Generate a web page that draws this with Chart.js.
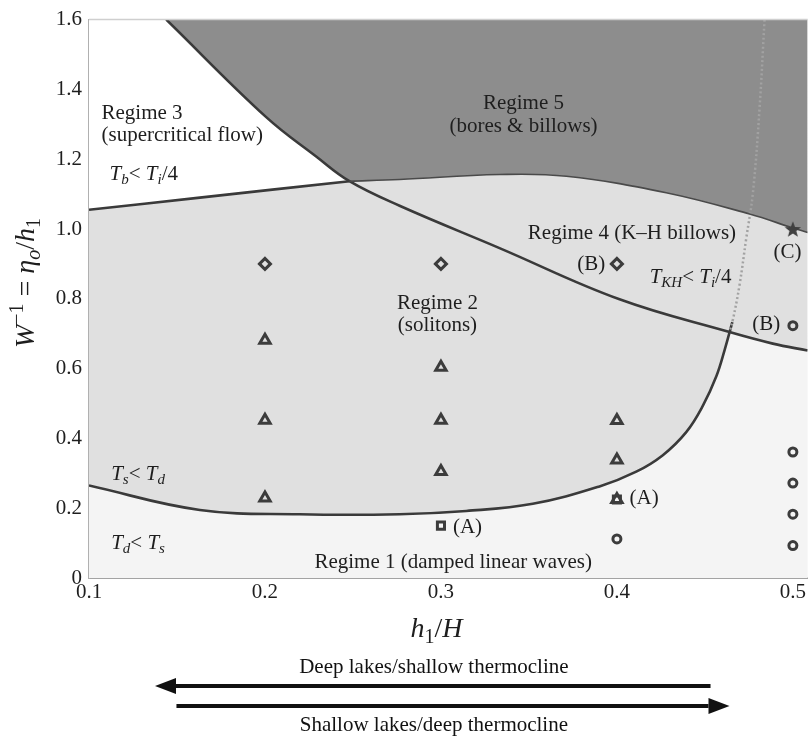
<!DOCTYPE html>
<html>
<head>
<meta charset="utf-8">
<title>Lake wave regimes</title>
<script src="https://cdn.jsdelivr.net/npm/chart.js@4.4.1/dist/chart.umd.min.js"></script>
<style>
  html, body { margin: 0; padding: 0; background: #fff; }
</style>
</head>
<body>
<canvas id="regimeChart" width="808" height="741"></canvas>
<script>
// tick labels
var xTicks = [0.1, 0.2, 0.3, 0.4, 0.5];
var yTicks = [0, 0.2, 0.4, 0.6, 0.8, 1.0, 1.2, 1.4, 1.6];

// regime boundaries as [h1/H, W^-1]
var supercriticalLine = [[0.1, 1.055], [0.163, 1.09], [0.248, 1.137]];
var billowTop = [[0.1439, 1.6], [0.2007, 1.3205], [0.2291, 1.2077], [0.248, 1.137]];
var billowMid = [[0.248, 1.137], [0.2765, 1.0666], [0.3333, 0.9453], [0.4015, 0.7985], [0.464, 0.7046]];
var billowRight = [[0.464, 0.7046], [0.4886, 0.6716], [0.5084, 0.6518]];
var boreCurve = [[0.248, 1.137], [0.2765, 1.142], [0.3333, 1.156], [0.3713, 1.151], [0.428, 1.104],
                 [0.4754, 1.043], [0.5, 1.003], [0.5084, 0.99]];
var solitonCurve = [[0.1, 0.265], [0.163, 0.195], [0.2196, 0.1826], [0.2765, 0.1826], [0.3144, 0.192],
                    [0.3522, 0.2125], [0.3901, 0.2624], [0.411, 0.3047], [0.4261, 0.352], [0.4394, 0.418],
                    [0.4488, 0.493], [0.4565, 0.578], [0.4612, 0.653], [0.4656, 0.733]];
var khCurve = [[0.4839, 1.6], [0.4811, 1.349], [0.4773, 1.104], [0.4735, 0.973], [0.4697, 0.84],
               [0.466, 0.742], [0.464, 0.7046]];

// experiment runs
var diamondRuns = [[0.2, 0.9], [0.3, 0.9], [0.4, 0.9]];
var triangleRuns = [[0.2, 0.681], [0.2, 0.452], [0.2, 0.229], [0.3, 0.604], [0.3, 0.452], [0.3, 0.305],
                    [0.4, 0.451], [0.4, 0.338], [0.4, 0.225]];
var squareRuns = [[0.3, 0.15], [0.4, 0.225]];
var circleRuns = [[0.4, 0.112], [0.5, 0.723], [0.5, 0.361], [0.5, 0.272], [0.5, 0.183], [0.5, 0.093]];
var starRuns = [[0.5, 1.0]];

var SERIF = '"Liberation Serif", "Times New Roman", serif';
var INK = '#1e1e1e';
var LINE = '#3a3a3a';
var MARK = '#3c3c3c';

function toXY(arr) {
  return arr.map(function (p) { return { x: p[0], y: p[1] }; });
}

// text placed in axis units
var textLabels = [
  { parts: [['Regime 3']], x: 0.1071, y: 1.315 },
  { parts: [['(supercritical flow)']], x: 0.1071, y: 1.251 },
  { parts: [['T', 'i'], ['b', 'is'], ['< '], ['T', 'i'], ['i', 'is'], ['/4']], x: 0.1117, y: 1.141 },
  { parts: [['Regime 5']], x: 0.3469, y: 1.344, align: 'center' },
  { parts: [['(bores & billows)']], x: 0.3469, y: 1.278, align: 'center' },
  { parts: [['Regime 4 (K\u2013H billows)']], x: 0.3494, y: 0.9726 },
  { parts: [['(C)']], x: 0.497, y: 0.918, align: 'center' },
  { parts: [['T', 'i'], ['KH', 'is'], ['< '], ['T', 'i'], ['i', 'is'], ['/4']], x: 0.4186, y: 0.8465 },
  { parts: [['(B)']], x: 0.3775, y: 0.883 },
  { parts: [['(B)']], x: 0.4769, y: 0.711 },
  { parts: [['Regime 2']], x: 0.298, y: 0.770, align: 'center' },
  { parts: [['(solitons)']], x: 0.298, y: 0.7074, align: 'center' },
  { parts: [['T', 'i'], ['s', 'is'], ['< '], ['T', 'i'], ['d', 'is']], x: 0.1126, y: 0.2813 },
  { parts: [['T', 'i'], ['d', 'is'], ['< '], ['T', 'i'], ['s', 'is']], x: 0.1126, y: 0.0838 },
  { parts: [['(A)']], x: 0.3068, y: 0.128 },
  { parts: [['(A)']], x: 0.4072, y: 0.2125 },
  { parts: [['Regime 1 (damped linear waves)']], x: 0.2281, y: 0.030 }
];

var arrowNotes = [
  { text: 'Deep lakes/shallow thermocline', from: 0.4532, to: 0.1375, lineDy: 108, textDy: 95 },
  { text: 'Shallow lakes/deep thermocline', from: 0.1497, to: 0.464, lineDy: 128, textDy: 153 }
];

function partFont(style, size) {
  var small = style === 'is' || style === 'rs' || style === 'sup';
  var italic = style === 'i' || style === 'is';
  return (italic ? 'italic ' : '') + (small ? Math.round(size * 0.7) : size) + 'px ' + SERIF;
}

function drawRich(ctx, parts, x, y, align, size) {
  var widths = parts.map(function (p) {
    ctx.font = partFont(p[1] || '', size);
    return ctx.measureText(p[0]).width;
  });
  var total = widths.reduce(function (a, b) { return a + b; }, 0);
  var cx = align === 'center' ? x - total / 2 : x;
  parts.forEach(function (p, i) {
    var st = p[1] || '';
    var dy = (st === 'is' || st === 'rs') ? size * 0.22 : (st === 'sup' ? -size * 0.4 : 0);
    ctx.font = partFont(st, size);
    ctx.fillText(p[0], cx, y + dy);
    cx += widths[i];
  });
}

function makeStar() {
  var c = document.createElement('canvas');
  c.width = 20; c.height = 20;
  var g = c.getContext('2d');
  g.fillStyle = '#404040';
  g.beginPath();
  for (var i = 0; i < 10; i++) {
    var r = i % 2 === 0 ? 8.5 : 3.6;
    var a = -Math.PI / 2 + i * Math.PI / 5;
    g.lineTo(10 + r * Math.cos(a), 10.8 + r * Math.sin(a));
  }
  g.closePath();
  g.fill();
  return c;
}

var backdrop = {
  id: 'backdrop',
  beforeDatasetsDraw: function (chart) {
    var a = chart.chartArea, ctx = chart.ctx;
    ctx.save();
    ctx.fillStyle = '#f4f4f4';
    ctx.fillRect(a.left, a.top, a.right - a.left, a.bottom - a.top);
    ctx.restore();
  }
};

var notes = {
  id: 'notes',
  afterDatasetsDraw: function (chart) {
    var ctx = chart.ctx, a = chart.chartArea;
    var xs = chart.scales.x, ys = chart.scales.y;
    ctx.save();
    // top frame line
    ctx.strokeStyle = '#cfcfcf';
    ctx.lineWidth = 1.5;
    ctx.beginPath();
    ctx.moveTo(a.left, a.top);
    ctx.lineTo(a.right, a.top);
    ctx.stroke();

    ctx.fillStyle = INK;
    ctx.textAlign = 'left';
    ctx.textBaseline = 'alphabetic';
    textLabels.forEach(function (t) {
      drawRich(ctx, t.parts, xs.getPixelForValue(t.x), ys.getPixelForValue(t.y), t.align, 21);
    });
    ctx.restore();
  },
  afterDraw: function (chart) {
    var ctx = chart.ctx, a = chart.chartArea;
    var xs = chart.scales.x;
    ctx.save();
    ctx.fillStyle = INK;
    ctx.textBaseline = 'alphabetic';
    // axis titles
    drawRich(ctx, [['h', 'i'], ['1', 'rs'], ['/'], ['H', 'i']], xs.getPixelForValue(0.2975), a.bottom + 59, 'center', 28);
    ctx.save();
    ctx.translate(34, 283);
    ctx.rotate(-Math.PI / 2);
    drawRich(ctx, [['W', 'i'], ['\u22121', 'sup'], [' = '], ['\u03b7', 'i'], ['o', 'is'], ['/'], ['h', 'i'], ['1', 'rs']], 0, 0, 'center', 28);
    ctx.restore();

    // direction arrows
    ctx.strokeStyle = '#111';
    ctx.fillStyle = '#111';
    arrowNotes.forEach(function (n) {
      var x0 = xs.getPixelForValue(n.from), x1 = xs.getPixelForValue(n.to);
      var y = a.bottom + n.lineDy;
      var dir = x1 > x0 ? 1 : -1;
      var head = 21;
      ctx.lineWidth = 4;
      ctx.beginPath();
      ctx.moveTo(x0, y);
      ctx.lineTo(x1 - dir * head, y);
      ctx.stroke();
      ctx.beginPath();
      ctx.moveTo(x1, y);
      ctx.lineTo(x1 - dir * head, y - 8);
      ctx.lineTo(x1 - dir * head, y + 8);
      ctx.closePath();
      ctx.fill();
      ctx.font = '21px ' + SERIF;
      ctx.textAlign = 'center';
      ctx.fillText(n.text, xs.getPixelForValue(0.296), a.bottom + n.textDy);
    });
    ctx.restore();
  }
};

function regionFill(points, color, order) {
  return {
    data: toXY(points), showLine: true, fill: 'end', backgroundColor: color,
    borderColor: 'rgba(0,0,0,0)', borderWidth: 0, pointRadius: 0, tension: 0.4, order: order
  };
}
function boundary(points, color, width, dash) {
  return {
    data: toXY(points), showLine: true, fill: false, borderColor: color, borderWidth: width,
    borderDash: dash || [], pointRadius: 0, tension: 0.4, order: 10
  };
}
function runs(points, style, radius) {
  return {
    data: toXY(points), showLine: false, pointStyle: style, pointRadius: radius,
    borderColor: MARK, pointBorderColor: MARK, backgroundColor: 'rgba(0,0,0,0)',
    borderWidth: 3, pointBorderWidth: 3, order: 1
  };
}

var upperBoundary = billowTop.concat(billowMid.slice(1), billowRight.slice(1));

var chart = new Chart(document.getElementById('regimeChart'), {
  type: 'scatter',
  data: {
    datasets: [
      regionFill(solitonCurve, '#e0e0e0', 50),
      regionFill(billowRight, '#e0e0e0', 49),
      regionFill(supercriticalLine, '#ffffff', 48),
      regionFill(billowTop.concat(boreCurve), '#8d8d8d', 47),
      boundary(boreCurve, '#4a4a4a', 1.6),
      boundary(khCurve, '#a2a2a2', 2.5, [2, 2.5]),
      boundary(upperBoundary, LINE, 2.6),
      boundary(supercriticalLine, LINE, 2.6),
      boundary(solitonCurve, LINE, 2.6),
      runs(diamondRuns, 'rectRot', 5.5),
      runs(triangleRuns, 'triangle', 6),
      runs(squareRuns, 'rect', 5),
      runs(circleRuns, 'circle', 4),
      { data: toXY(starRuns), showLine: false, pointStyle: makeStar(), pointRadius: 10, order: 0 }
    ]
  },
  options: {
    responsive: false,
    animation: false,
    devicePixelRatio: 1,
    events: [],
    layout: { autoPadding: false, padding: { top: 11, left: 0, right: 0, bottom: 0 } },
    plugins: { legend: { display: false }, tooltip: { enabled: false } },
    scales: {
      x: {
        type: 'linear', min: 0.1, max: 0.5084,
        grid: { display: false, drawTicks: false },
        border: { display: true, color: '#a3a3a3', width: 2 },
        afterBuildTicks: function (s) { s.ticks = xTicks.map(function (v) { return { value: v }; }); },
        afterFit: function (s) { s.height = 163; },
        ticks: {
          padding: 2, color: INK, font: { family: SERIF, size: 21 },
          callback: function (v) { return Number(v).toFixed(1); }
        }
      },
      y: {
        type: 'linear', min: 0, max: 1.6,
        grid: { display: false, drawTicks: false },
        border: { display: true, color: '#b0b0b0', width: 2 },
        afterBuildTicks: function (s) { s.ticks = yTicks.map(function (v) { return { value: v }; }); },
        afterFit: function (s) { s.width = 89; },
        ticks: {
          padding: 7, color: INK, font: { family: SERIF, size: 21 },
          callback: function (v) { return v === 0 ? '0' : Number(v).toFixed(1); }
        }
      }
    }
  },
  plugins: [backdrop, notes]
});
</script>
</body>
</html>
